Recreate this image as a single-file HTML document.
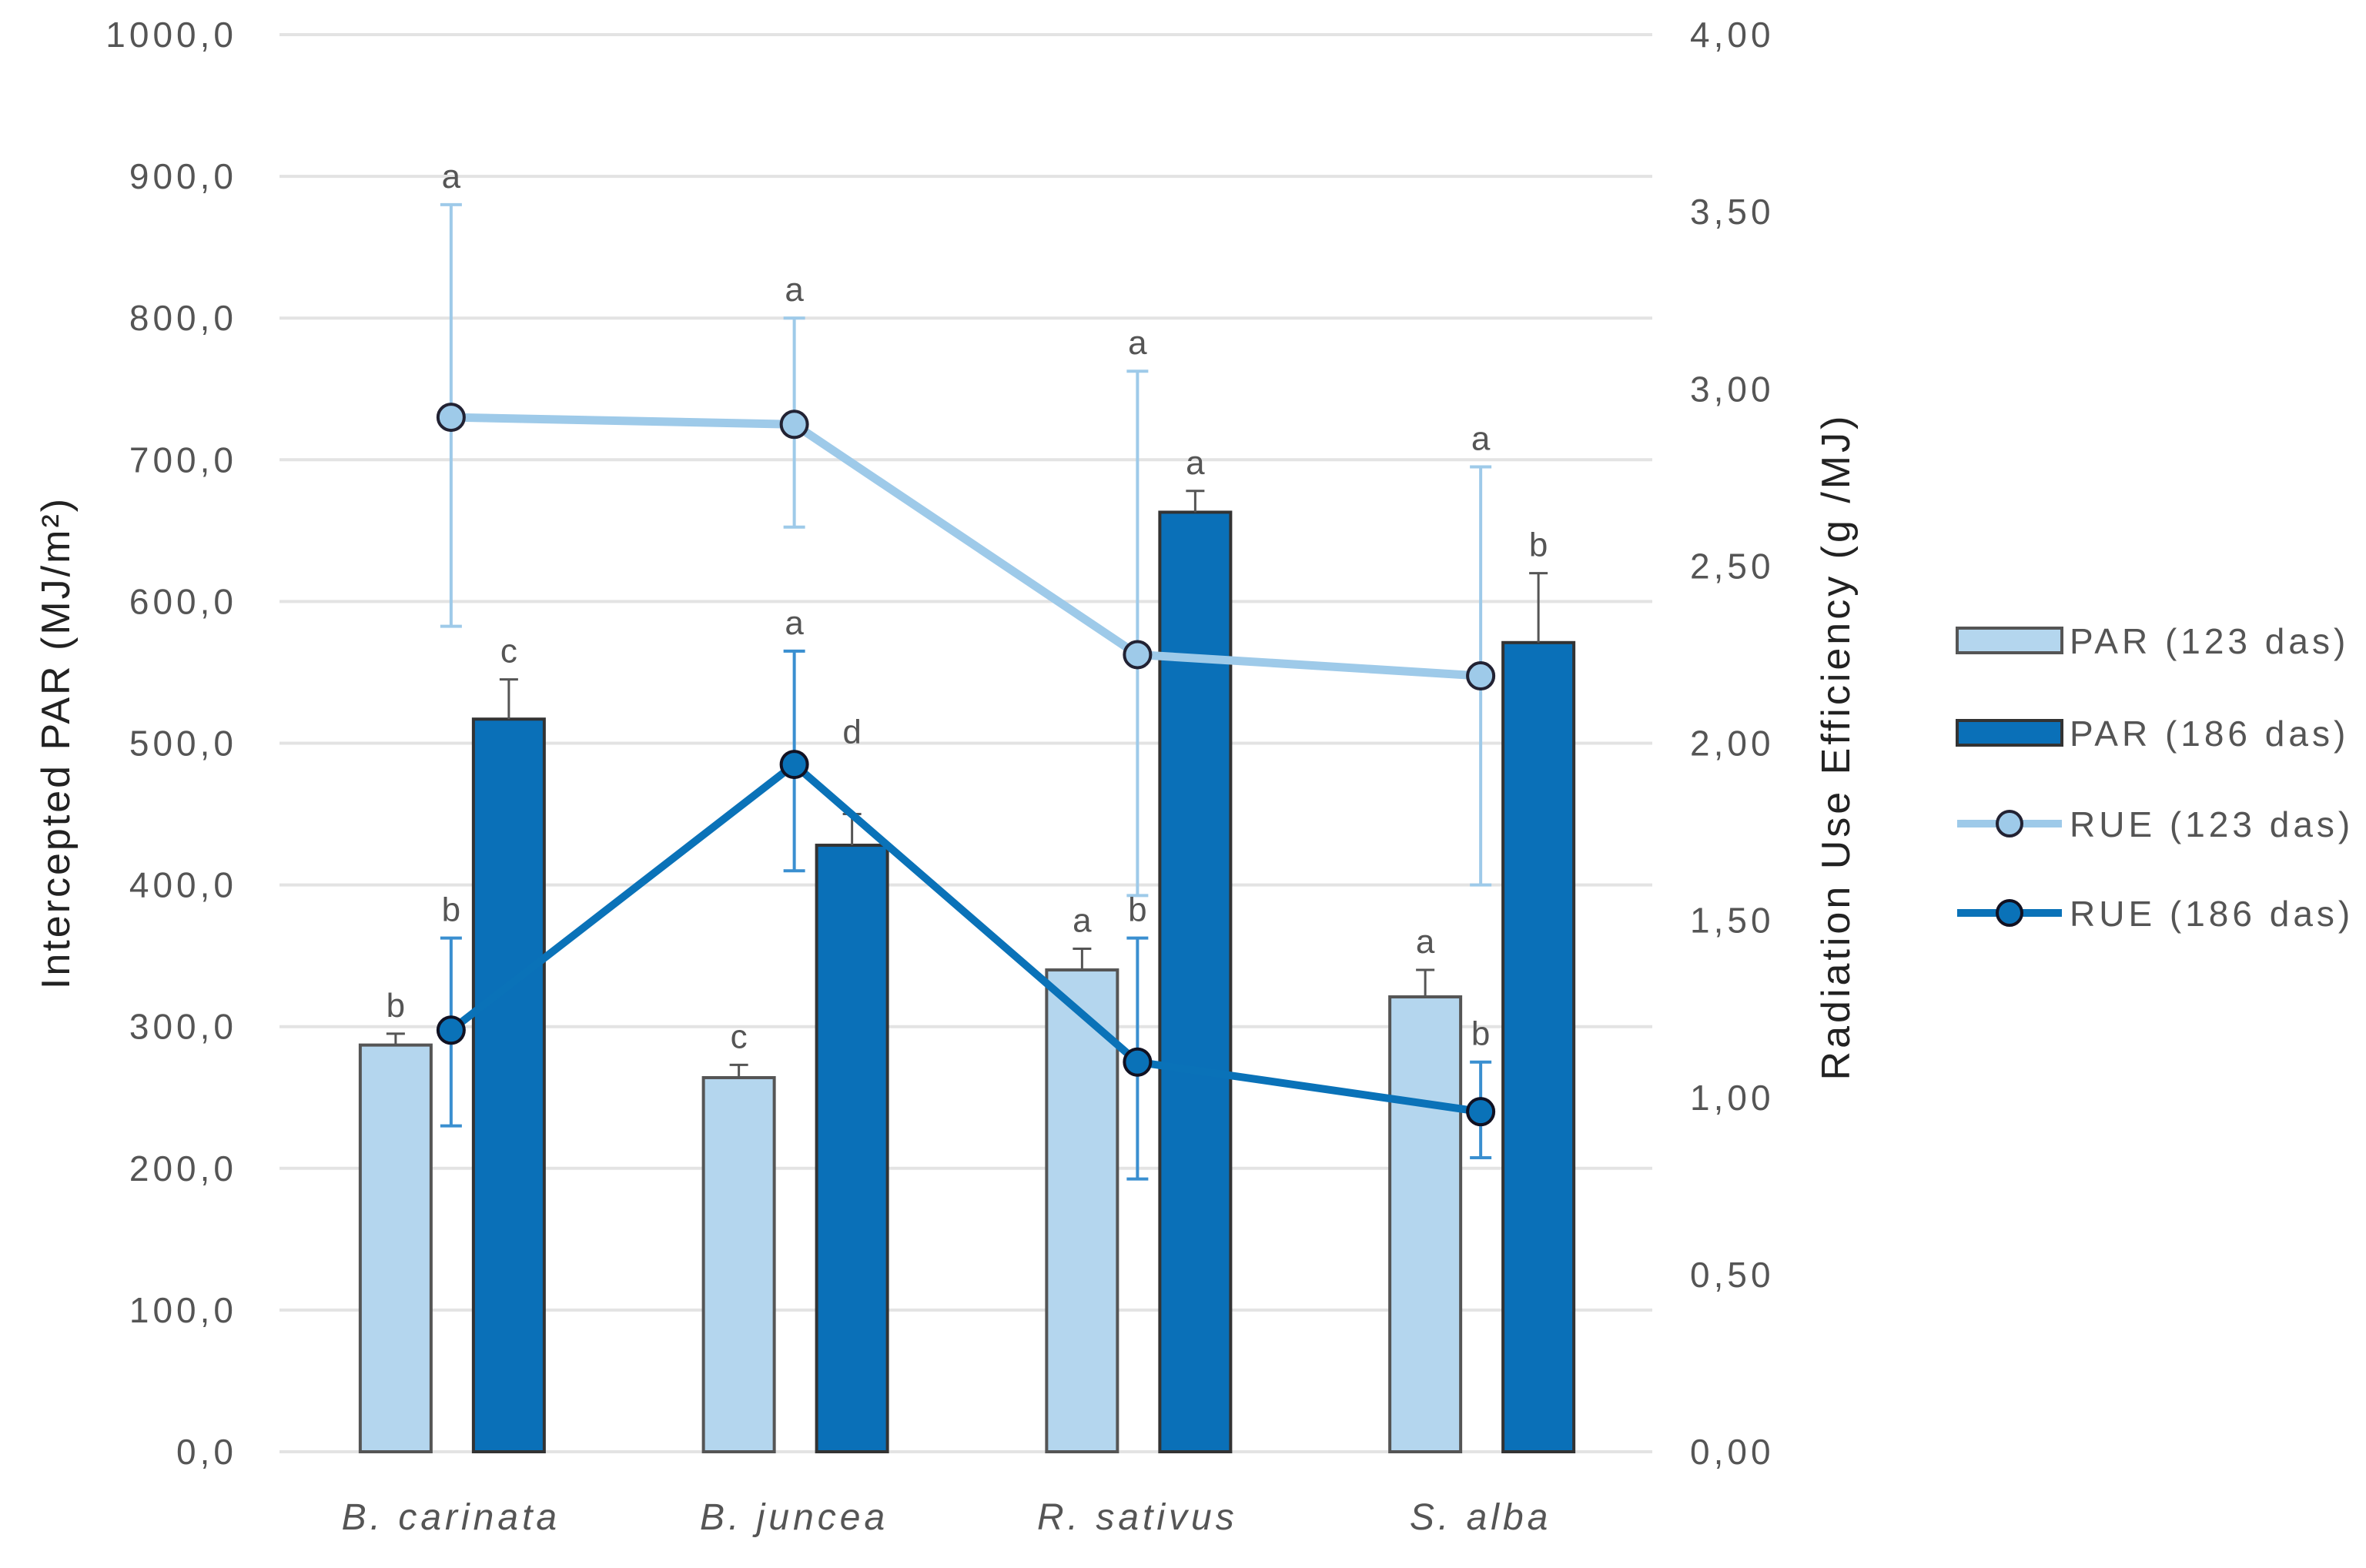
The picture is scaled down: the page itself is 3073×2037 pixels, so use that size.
<!DOCTYPE html>
<html><head><meta charset="utf-8"><style>
html,body{margin:0;padding:0;background:#fff}
svg{display:block;font-family:"Liberation Sans",sans-serif}
</style></head><body>
<svg id="chart" width="3073" height="2037" viewBox="0 0 3073 2037" xmlns="http://www.w3.org/2000/svg">
<g id="grid"></g>
<g id="bars"></g>
<g id="lines"></g>
<g id="axes"></g>
<text x="0" y="0" transform="translate(90,965) rotate(-90)" text-anchor="middle" font-size="52" letter-spacing="3" fill="#222">Intercepted PAR (MJ/m²)</text>
<text x="0" y="0" transform="translate(2402,970) rotate(-90)" text-anchor="middle" font-size="52" letter-spacing="4" fill="#222">Radiation Use Efficiency (g /MJ)</text>
<g font-size="46" letter-spacing="5" fill="#555">
 <g><rect x="2542" y="816" width="136" height="32" fill="#b4d6ee" stroke="#555" stroke-width="4"/><text x="2688" y="849">PAR (123 das)</text></g>
 <g><rect x="2542" y="936" width="136" height="32" fill="#0a70b8" stroke="#333" stroke-width="4"/><text x="2688" y="969">PAR (186 das)</text></g>
 <g><line x1="2542" x2="2678" y1="1070" y2="1070" stroke="#9ecae9" stroke-width="10"/><circle cx="2610" cy="1070" r="16" fill="#9ecae9" stroke="#223" stroke-width="4"/><text x="2688" y="1087">RUE (123 das)</text></g>
 <g><line x1="2542" x2="2678" y1="1186" y2="1186" stroke="#0a72b8" stroke-width="10"/><circle cx="2610" cy="1186" r="16" fill="#0a72b8" stroke="#112" stroke-width="4"/><text x="2688" y="1203">RUE (186 das)</text></g>
</g>
</svg>
<script>
const categories = ["B. carinata", "B. juncea", "R. sativus", "S.  alba"];
const par123 = [287, 264, 340, 321];
const par123Err = [8, 9, 15, 19];
const par123Letters = ["b", "c", "a", "a"];
const par186 = [517, 428, 663, 571];
const par186Err = [28, 22, 15, 49];
const par186Letters = ["c", "d", "a", "b"];
const rue123 = [2.92, 2.90, 2.25, 2.19];
const rue123Hi = [3.52, 3.20, 3.05, 2.78];
const rue123Lo = [2.33, 2.61, 1.57, 1.60];
const rue123Letters = ["a", "a", "a", "a"];
const rue186 = [1.19, 1.94, 1.10, 0.96];
const rue186Hi = [1.45, 2.26, 1.45, 1.10];
const rue186Lo = [0.92, 1.64, 0.77, 0.83];
const rue186Letters = ["b", "a", "b", "b"];
const leftTicks = [0,100,200,300,400,500,600,700,800,900,1000];
const rightTicks = [0,0.5,1,1.5,2,2.5,3,3.5,4];

const NS = "http://www.w3.org/2000/svg";
const X0 = 363, X1 = 2146, Y0 = 1886, Y1 = 45;
const yL = v => Y0 - (v / 1000) * (Y0 - Y1);
const yR = v => Y0 - (v / 4) * (Y0 - Y1);
const band = (X1 - X0) / categories.length;
const xc = i => X0 + band * (i + 0.5);
function mk(tag, attrs, parent) {
  const e = document.createElementNS(NS, tag);
  for (const k in attrs) e.setAttribute(k, attrs[k]);
  parent.appendChild(e);
  return e;
}
const grid = document.getElementById('grid');
const axes = document.getElementById('axes');
const bars = document.getElementById('bars');
const lines = document.getElementById('lines');

leftTicks.forEach(t => {
  const l = mk('line', {x1: X0, x2: X1, y1: yL(t), y2: yL(t), stroke: '#e3e3e3', 'stroke-width': 4}, grid);
  
  
  const tx = mk('text', {x: 308, y: yL(t) + 16, 'text-anchor': 'end', 'font-size': 46, 'letter-spacing': 5, fill: '#555'}, axes);
  tx.textContent = t.toFixed(1).replace('.', ',');
  
  
});
rightTicks.forEach(t => {
  const tx = mk('text', {x: 2195, y: yR(t) + 16, 'font-size': 46, 'letter-spacing': 5, fill: '#555'}, axes);
  tx.textContent = t.toFixed(2).replace('.', ',');
  
  
});
categories.forEach((c, i) => {
  const tx = mk('text', {x: xc(i), y: 1987, 'text-anchor': 'middle', 'font-size': 48, 'letter-spacing': 5, 'font-style': 'italic', fill: '#555'}, axes);
  tx.textContent = c;
  
  
});

function label(x, y, s, name) {
  const t = mk('text', {x: x, y: y, 'text-anchor': 'middle', 'font-size': 44, fill: '#555'}, lines);
  t.textContent = s;
  
  
}
function errBar(x, hi, lo, color, w, parent) {
  const g = mk('g', {stroke: color, 'stroke-width': w}, parent);
  mk('line', {x1: x, x2: x, y1: hi, y2: lo}, g);
  mk('line', {x1: x - 14, x2: x + 14, y1: hi, y2: hi}, g);
  mk('line', {x1: x - 14, x2: x + 14, y1: lo, y2: lo}, g);
  
  
}

const BW = 92;
categories.forEach((c, i) => {
  const xa = xc(i) - 118, xb = xc(i) + 29;
  const ra = mk('rect', {x: xa, y: yL(par123[i]), width: BW, height: Y0 - yL(par123[i]), fill: '#b4d6ee', stroke: '#555', 'stroke-width': 4}, bars);
  
  
  const rb = mk('rect', {x: xb, y: yL(par186[i]), width: BW, height: Y0 - yL(par186[i]), fill: '#0a70b8', stroke: '#333', 'stroke-width': 4}, bars);
  
  
  const ea = mk('g', {stroke: '#555', 'stroke-width': 3}, bars);
  mk('line', {x1: xa + BW/2, x2: xa + BW/2, y1: yL(par123[i]), y2: yL(par123[i] + par123Err[i])}, ea);
  mk('line', {x1: xa + BW/2 - 12, x2: xa + BW/2 + 12, y1: yL(par123[i] + par123Err[i]), y2: yL(par123[i] + par123Err[i])}, ea);
  
  
  const eb = mk('g', {stroke: '#555', 'stroke-width': 3}, bars);
  mk('line', {x1: xb + BW/2, x2: xb + BW/2, y1: yL(par186[i]), y2: yL(par186[i] + par186Err[i])}, eb);
  mk('line', {x1: xb + BW/2 - 12, x2: xb + BW/2 + 12, y1: yL(par186[i] + par186Err[i]), y2: yL(par186[i] + par186Err[i])}, eb);
  
  
  label(xa + BW/2, yL(par123[i] + par123Err[i]) - 22, par123Letters[i], 'letter-par-123');
  label(xb + BW/2 + (i === 1 ? 0 : 0), yL(par186[i] + par186Err[i]) - 22 - (i === 1 ? 70 : 0), par186Letters[i], 'letter-par-186');
});

categories.forEach((c, i) => {
  errBar(xc(i), yR(rue123Hi[i]), yR(rue123Lo[i]), '#9ecae9', 4, lines);
  label(xc(i), yR(rue123Hi[i]) - 22, rue123Letters[i], 'letter-rue-123');
});
const p1 = mk('polyline', {points: rue123.map((v, i) => xc(i) + ',' + yR(v)).join(' '), fill: 'none', stroke: '#9ecae9', 'stroke-width': 11, 'stroke-linejoin': 'round'}, lines);


rue123.forEach((v, i) => {
  const m = mk('circle', {cx: xc(i), cy: yR(v), r: 17, fill: '#9ecae9', stroke: '#223', 'stroke-width': 4}, lines);
  
  
});
categories.forEach((c, i) => {
  errBar(xc(i), yR(rue186Hi[i]), yR(rue186Lo[i]), '#3a8fd0', 4, lines);
  label(xc(i), yR(rue186Hi[i]) - 22, rue186Letters[i], 'letter-rue-186');
});
const p2 = mk('polyline', {points: rue186.map((v, i) => xc(i) + ',' + yR(v)).join(' '), fill: 'none', stroke: '#0a72b8', 'stroke-width': 10, 'stroke-linejoin': 'round'}, lines);


rue186.forEach((v, i) => {
  const m = mk('circle', {cx: xc(i), cy: yR(v), r: 17, fill: '#0a72b8', stroke: '#112', 'stroke-width': 4}, lines);
  
  
});
</script>
</body></html>
